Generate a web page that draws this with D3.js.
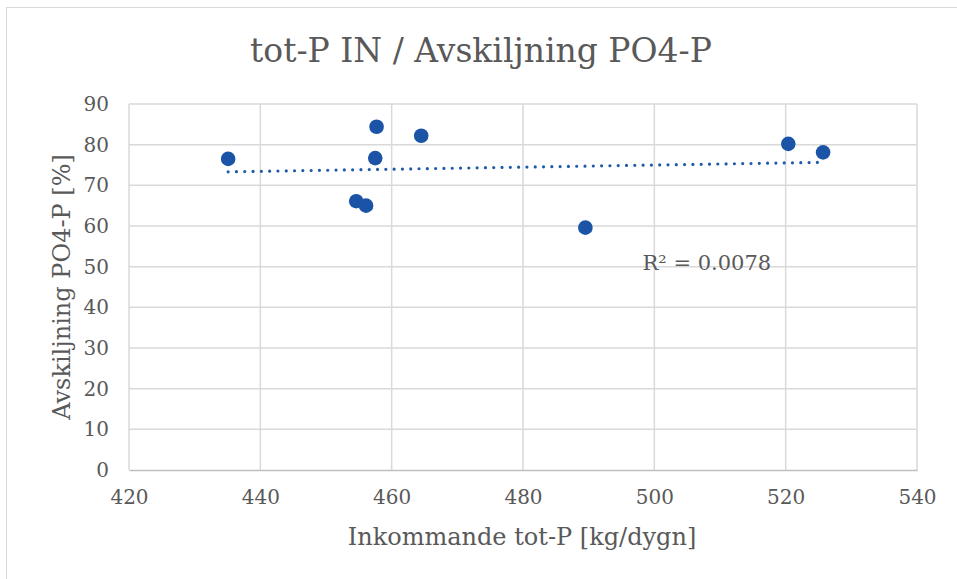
<!DOCTYPE html>
<html>
<head>
<meta charset="utf-8">
<script src="https://cdn.jsdelivr.net/npm/d3@7"></script>
<style>
  body { margin: 0; background: #fff; }
  svg { display: block; font-family: "DejaVu Serif", "Liberation Serif", serif; }
</style>
</head>
<body>
<div id="chart"></div>
<script>
// data
const totPIn = [435.1, 457.7, 457.5, 464.5, 454.6, 456.1, 489.5, 520.4, 525.7];
const avskiljning = [76.5, 84.4, 76.7, 82.2, 66.1, 65.0, 59.6, 80.2, 78.1];
const xTicks = [420, 440, 460, 480, 500, 520, 540];
const yTicks = [0, 10, 20, 30, 40, 50, 60, 70, 80, 90];
const titleText = 'tot-P IN / Avskiljning PO4-P';
const xTitle = 'Inkommande tot-P [kg/dygn]';
const yTitle = 'Avskiljning PO4-P [%]';
const r2Label = 'R² = 0.0078';

const width = 957, height = 579;
const margin = { top: 104, right: 40, bottom: 109, left: 129 };
const innerW = width - margin.left - margin.right;
const innerH = height - margin.top - margin.bottom;

const svg = d3.select('#chart').append('svg')
  .attr('width', width)
  .attr('height', height);

// chart area border
svg.append('rect')
  .attr('x', 6.5).attr('y', 7.5)
  .attr('width', width).attr('height', height)
  .attr('fill', 'none')
  .attr('stroke', '#d9d9d9')
  .attr('stroke-width', 1);

const x = d3.scaleLinear().domain([420, 540]).range([0, innerW]);
const y = d3.scaleLinear().domain([0, 90]).range([innerH, 0]);

const g = svg.append('g')
  .attr('transform', `translate(${margin.left},${margin.top})`);

// grid
g.append('g')
  .selectAll('line')
  .data(xTicks)
  .join('line')
  .attr('x1', d => x(d)).attr('x2', d => x(d))
  .attr('y1', 0).attr('y2', innerH)
  .attr('stroke', '#d9d9d9').attr('stroke-width', 1.5);

g.append('g')
  .selectAll('line')
  .data(yTicks.filter(d => d > 0))
  .join('line')
  .attr('x1', 0).attr('x2', innerW)
  .attr('y1', d => y(d)).attr('y2', d => y(d))
  .attr('stroke', '#d9d9d9').attr('stroke-width', 1.5);

// x axis
const xAxis = g.append('g')
  .attr('transform', `translate(0,${innerH})`)
  .call(d3.axisBottom(x).tickValues(xTicks).tickSize(0).tickPadding(20))
  .attr('font-family', null).attr('font-size', null);
xAxis.select('.domain').attr('stroke', '#bfbfbf').attr('stroke-width', 1.5);
xAxis.selectAll('text').attr('fill', '#595959').style('font-size', '20px');

// y axis
const yAxis = g.append('g')
  .call(d3.axisLeft(y).tickValues(yTicks).tickSize(0).tickPadding(20))
  .attr('font-family', null).attr('font-size', null);
yAxis.select('.domain').remove();
yAxis.selectAll('text').attr('fill', '#595959').style('font-size', '20px');

// trendline (least squares)
const mx = d3.mean(totPIn), my = d3.mean(avskiljning);
const slope = d3.sum(totPIn, (v, i) => (v - mx) * (avskiljning[i] - my)) /
  d3.sum(totPIn, v => (v - mx) ** 2);
const icpt = my - slope * mx;
const [xmin, xmax] = d3.extent(totPIn);
g.append('line')
  .attr('x1', x(xmin)).attr('y1', y(icpt + slope * xmin))
  .attr('x2', x(xmax)).attr('y2', y(icpt + slope * xmax))
  .attr('stroke', '#1f5aa8')
  .attr('stroke-width', 3.2)
  .attr('stroke-linecap', 'round')
  .attr('stroke-dasharray', '0,8.3');

// points
g.append('g')
  .selectAll('circle')
  .data(totPIn.map((v, i) => [v, avskiljning[i]]))
  .join('circle')
  .attr('cx', d => x(d[0]))
  .attr('cy', d => y(d[1]))
  .attr('r', 7.3)
  .attr('fill', '#1b54a6');

// R² label
g.append('text')
  .attr('x', x(508)).attr('y', y(49.3))
  .attr('text-anchor', 'middle')
  .attr('fill', '#595959')
  .style('font-size', '21px')
  .text(r2Label);

// titles
svg.append('text')
  .attr('x', 481).attr('y', 62)
  .attr('text-anchor', 'middle')
  .attr('fill', '#595959')
  .style('font-size', '33px')
  .text(titleText);

svg.append('text')
  .attr('x', 522).attr('y', 545)
  .attr('text-anchor', 'middle')
  .attr('fill', '#595959')
  .style('font-size', '24px')
  .text(xTitle);

svg.append('text')
  .attr('transform', `translate(70,${margin.top + innerH / 2}) rotate(-90)`)
  .attr('text-anchor', 'middle')
  .attr('fill', '#595959')
  .style('font-size', '24px')
  .text(yTitle);
</script>
</body>
</html>
